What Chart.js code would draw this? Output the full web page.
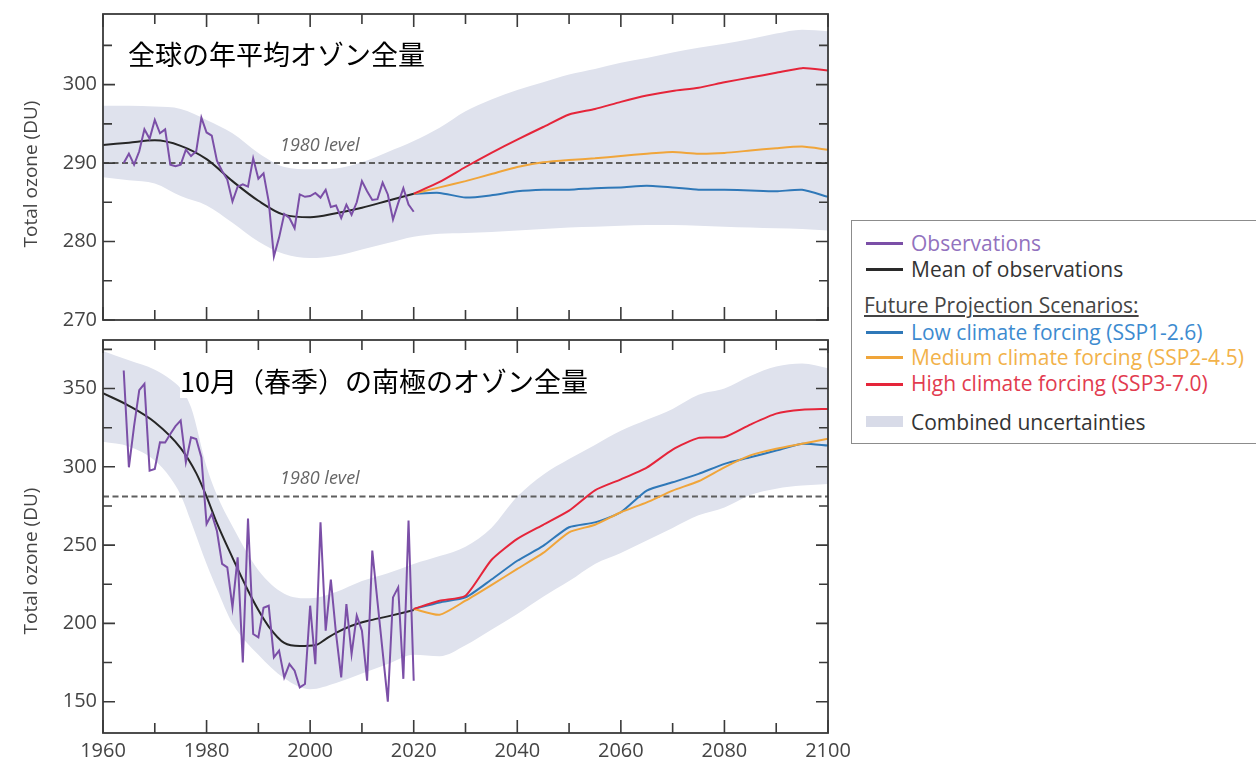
<!DOCTYPE html>
<html>
<head>
<meta charset="utf-8">
<script src="https://cdn.jsdelivr.net/npm/chart.js@4.4.1/dist/chart.umd.min.js"></script>
<style>
  html, body { margin: 0; padding: 0; background: #fff; width: 1256px; height: 759px; overflow: hidden; font-family: "Open Sans", sans-serif; }
  canvas { position: absolute; left: 0; }
  #globalChart { top: 0; }
  #polarChart { top: 330px; }
  .ttl { position: absolute; font-family: "Noto Sans CJK JP", sans-serif; font-size: 27px; line-height: 34px; color: #000; background: #fff; white-space: nowrap; }
  .lvl { position: absolute; font-style: italic; font-size: 18px; line-height: 20px; color: #666; white-space: nowrap; }
  .yt { position: absolute; font-size: 19px; line-height: 22px; color: #444; white-space: nowrap; transform: translate(-50%, -50%) rotate(-90deg); }
  #legendBox { position: absolute; left: 851px; top: 220px; width: 430px; height: 224px; border: 1.5px solid #8c8c8c; box-sizing: border-box; background: #fff; }
  .li { position: absolute; left: 911px; font-size: 21px; line-height: 24px; white-space: nowrap; }
  .sw { position: absolute; left: 866px; width: 37px; height: 2.5px; }
</style>
</head>
<body>
<canvas id="globalChart" width="870" height="330"></canvas>
<canvas id="polarChart" width="870" height="429"></canvas>

<div class="ttl" style="left:128px; top:37px;">全球の年平均オゾン全量</div>
<div class="ttl" style="left:180px; top:364px;">10月（春季）の南極のオゾン全量</div>
<div class="lvl" style="left:280px; top:134px;">1980 level</div>
<div class="lvl" style="left:280px; top:467px;">1980 level</div>
<div class="yt" style="left:30px; top:174px;">Total ozone (DU)</div>
<div class="yt" style="left:30px; top:561px;">Total ozone (DU)</div>

<div id="legendBox"></div>
<div class="sw" style="top:242px; background:#7b4fa7;"></div>
<div class="li" style="top:231px; color:#9272be;">Observations</div>
<div class="sw" style="top:268px; background:#2a2a2a;"></div>
<div class="li" style="top:257px; color:#333;">Mean of observations</div>
<div class="li" style="left:864px; top:293px; color:#444; text-decoration:underline;">Future Projection Scenarios:</div>
<div class="sw" style="top:331px; background:#2f78b8;"></div>
<div class="li" style="top:320px; color:#3d8bd0;">Low climate forcing (SSP1-2.6)</div>
<div class="sw" style="top:356px; background:#f0a53a;"></div>
<div class="li" style="top:345px; color:#f2b24a;">Medium climate forcing (SSP2-4.5)</div>
<div class="sw" style="top:383px; background:#e5253a;"></div>
<div class="li" style="top:371px; color:#e23b4f;">High climate forcing (SSP3-7.0)</div>
<div class="sw" style="top:416px; height:11px; background:#d8dbe8;"></div>
<div class="li" style="top:410px; color:#333;">Combined uncertainties</div>

<script>
// ---- axes ----
const xLabelYears = [1960, 1980, 2000, 2020, 2040, 2060, 2080, 2100];
const xMinorYears = [1970, 1990, 2010, 2030, 2050, 2070, 2090];
const globalTicks = [270, 280, 290, 300];
const globalMinor = [275, 285, 295, 305];
const polarTicks = [150, 200, 250, 300, 350];
const polarMinor = [175, 225, 275, 325, 375];

// ---- observations (annual) ----
const obsYears = [1964, 1965, 1966, 1967, 1968, 1969, 1970, 1971, 1972, 1973,
                  1974, 1975, 1976, 1977, 1978, 1979, 1980, 1981, 1982, 1983,
                  1984, 1985, 1986, 1987, 1988, 1989, 1990, 1991, 1992, 1993,
                  1994, 1995, 1996, 1997, 1998, 1999, 2000, 2001, 2002, 2003,
                  2004, 2005, 2006, 2007, 2008, 2009, 2010, 2011, 2012, 2013,
                  2014, 2015, 2016, 2017, 2018, 2019, 2020];
const globalObs = [290.0, 291.2, 289.8, 291.5, 294.3, 293.1, 295.5, 293.8, 294.3, 289.8,
                   289.6, 289.8, 291.7, 290.9, 291.5, 295.8, 293.9, 293.5, 290.3, 289.0,
                   287.9, 285.1, 287.0, 287.3, 287.0, 290.6, 288.0, 288.7, 285.1, 278.1,
                   280.5, 283.5, 283.0, 281.7, 286.0, 285.7, 285.8, 286.2, 285.6, 286.6,
                   284.4, 284.6, 283.0, 284.7, 283.4, 285.0, 287.7, 286.4, 285.3, 285.4,
                   287.5, 286.0, 282.8, 284.9, 286.8, 284.7, 283.8];
const polarObs = [361.5, 299.7, 326.0, 349.0, 353.0, 297.6, 298.6, 315.7, 315.5, 321.0,
                  326.0, 329.6, 303.0, 318.9, 317.8, 306.0, 263.5, 269.9, 259.0, 238.0,
                  235.8, 210.2, 242.2, 175.1, 267.0, 193.2, 191.1, 210.0, 211.3, 178.3,
                  182.6, 165.5, 174.0, 169.8, 159.1, 161.3, 211.3, 174.0, 264.6, 195.4,
                  228.0, 193.4, 165.5, 212.4, 180.4, 205.0, 195.4, 163.4, 246.5, 214.0,
                  182.0, 150.0, 216.6, 223.0, 164.6, 265.7, 163.4];

// ---- smoothed mean of observations ----
const globalMeanYears = [1960, 1965, 1970, 1975, 1980, 1985, 1990, 1995, 2000, 2005, 2010, 2015, 2020];
const globalMean = [292.3, 292.6, 292.9, 292.2, 290.5, 287.7, 285.2, 283.4, 283.1, 283.6, 284.3, 285.2, 286.1];
const polarMeanYears = [1960, 1965, 1970, 1975, 1978, 1980, 1982, 1985, 1988, 1990,
                        1992, 1995, 1998, 2001, 2003, 2005, 2008, 2011, 2015, 2020];
const polarMean = [347, 339, 328.5, 312, 296, 281, 264, 242, 221, 208.5,
                   198, 187.5, 185.5, 186, 190, 194, 198.5, 201.5, 204.5, 208.5];

// ---- scenario projections ----
const projYears = [2020, 2025, 2030, 2035, 2040, 2045, 2050, 2055, 2060,
                   2065, 2070, 2075, 2080, 2085, 2090, 2095, 2100];
const globalLow  = [286.1, 286.2, 285.6, 285.9, 286.4, 286.6, 286.6, 286.8, 286.9,
                    287.1, 286.9, 286.6, 286.6, 286.5, 286.4, 286.6, 285.7];
const globalMid  = [286.1, 286.9, 287.7, 288.6, 289.5, 290.1, 290.4, 290.6, 290.9,
                    291.2, 291.4, 291.2, 291.3, 291.6, 291.9, 292.1, 291.7];
const globalHigh = [286.1, 287.6, 289.5, 291.3, 293.0, 294.6, 296.2, 296.9, 297.8,
                    298.6, 299.2, 299.6, 300.3, 300.9, 301.5, 302.1, 301.8];
const polarLow  = [209.2, 213.4, 216.6, 228.0, 240.0, 249.5, 261.4, 264.5, 271.0,
                   284.8, 290.1, 295.5, 301.9, 306.1, 310.4, 314.7, 313.6];
const polarMid  = [209.2, 205.5, 214.5, 224.5, 234.8, 245.0, 258.2, 263.0, 271.0,
                   277.3, 284.8, 290.8, 299.7, 307.3, 311.5, 314.7, 317.9];
const polarHigh = [209.2, 214.5, 217.7, 240.5, 254.0, 263.0, 272.0, 285.0, 292.0,
                   299.5, 311.0, 318.5, 319.0, 327.0, 334.0, 336.5, 337.0];

// ---- combined uncertainty envelope ----
const globalBandYears = [1960, 1965, 1970, 1975, 1980, 1985, 1990, 1995, 2000, 2005,
                         2010, 2015, 2020, 2025, 2030, 2035, 2040, 2045, 2050, 2055,
                         2060, 2065, 2070, 2075, 2080, 2085, 2090, 2095, 2100];
const globalBandHigh = [297.3, 297.3, 297.2, 296.9, 295.5, 293.8, 291.3, 289.5, 289.2, 289.3,
                        290.1, 291.4, 292.8, 294.5, 296.6, 298.1, 299.3, 300.3, 301.3, 302.0,
                        302.8, 303.4, 304.1, 304.7, 305.2, 305.8, 306.5, 307.0, 306.8];
const globalBandLow  = [288.2, 287.8, 287.4, 285.8, 284.6, 282.4, 280.0, 278.4, 277.9, 278.2,
                        279.0, 279.8, 280.6, 281.0, 281.1, 281.2, 281.4, 281.6, 281.8, 281.9,
                        282.0, 282.1, 282.1, 282.0, 281.9, 281.8, 281.7, 281.6, 281.4];
const polarBandYears = [1960, 1965, 1970, 1973, 1975, 1977, 1980, 1982, 1985, 1990,
                        1995, 2000, 2005, 2010, 2015, 2020, 2025, 2030, 2035, 2040,
                        2045, 2050, 2055, 2060, 2065, 2070, 2075, 2080, 2085, 2090,
                        2095, 2100];
const polarBandHigh = [374, 368, 362, 356, 350, 338, 300, 282, 262, 234,
                       219, 216, 220, 227, 232, 238, 243, 249, 261, 281,
                       295, 305, 314, 323, 330, 337, 346, 350, 358, 364,
                       366, 363];
const polarBandLow  = [316, 313, 304, 293, 282, 265, 238, 222, 200, 180,
                       165, 158, 162, 168, 174, 180, 179, 186, 196, 206,
                       217, 227, 238, 245, 253, 261, 269, 274, 282, 286,
                       288, 289];

// ---- 1980 reference levels ----
const globalLevel1980 = 290;
const polarLevel1980 = 281;

// ---- styling ----
const C_OBS = '#7b4fa7', C_MEAN = '#262626', C_LOW = '#2f78b8', C_MID = '#f0a53a',
      C_HIGH = '#e5253a', C_BAND = '#dfe2ed', C_LEVEL = '#5e5e5e', C_AXIS = '#3a3a3a';

Chart.defaults.font.family = '"Open Sans", sans-serif';

const pts = (xs, ys) => xs.map((x, i) => ({ x: x, y: ys[i] }));

// Frame with inward-pointing tick marks on all four sides
const frameTicks = {
  id: 'frameTicks',
  afterDatasetsDraw(chart, args, opts) {
    const { ctx, chartArea: a } = chart;
    const xs = chart.scales.x, ys = chart.scales.y;
    ctx.save();
    ctx.strokeStyle = C_AXIS;
    ctx.lineWidth = 1.6;
    ctx.beginPath();
    const seg = (x1, y1, x2, y2) => { ctx.moveTo(x1, y1); ctx.lineTo(x2, y2); };
    xLabelYears.forEach(v => { const p = xs.getPixelForValue(v); seg(p, a.top, p, a.top + 13); seg(p, a.bottom, p, a.bottom - 13); });
    xMinorYears.forEach(v => { const p = xs.getPixelForValue(v); seg(p, a.top, p, a.top + 10); seg(p, a.bottom, p, a.bottom - 10); });
    opts.major.forEach(v => { const p = ys.getPixelForValue(v); seg(a.left, p, a.left + 12, p); seg(a.right, p, a.right - 12, p); });
    opts.minor.forEach(v => { const p = ys.getPixelForValue(v); seg(a.left, p, a.left + 9, p); seg(a.right, p, a.right - 9, p); });
    ctx.stroke();
    ctx.lineWidth = 1.8;
    ctx.strokeRect(a.left, a.top, a.right - a.left, a.bottom - a.top);
    ctx.restore();
  }
};

function panelDatasets(d) {
  return [
    { data: pts(d.obsYears, d.obs), borderColor: C_OBS, borderWidth: 2, order: 1 },
    { data: pts(d.meanYears, d.mean), borderColor: C_MEAN, borderWidth: 2, cubicInterpolationMode: 'monotone', order: 2 },
    { data: pts(projYears, d.high), borderColor: C_HIGH, borderWidth: 2, tension: 0.2, order: 3 },
    { data: pts(projYears, d.mid), borderColor: C_MID, borderWidth: 2, tension: 0.2, order: 4 },
    { data: pts(projYears, d.low), borderColor: C_LOW, borderWidth: 2, tension: 0.2, order: 5 },
    { data: [{ x: 1960, y: d.level }, { x: 2100, y: d.level }], borderColor: C_LEVEL, borderWidth: 2, borderDash: [6, 3.5], order: 8 },
    { data: pts(d.bandYears, d.bandHigh), borderWidth: 0, borderColor: 'rgba(0,0,0,0)', backgroundColor: C_BAND, fill: '+1', cubicInterpolationMode: 'monotone', order: 20 },
    { data: pts(d.bandYears, d.bandLow), borderWidth: 0, borderColor: 'rgba(0,0,0,0)', fill: false, cubicInterpolationMode: 'monotone', order: 21 }
  ];
}

function buildPanel(canvasId, d) {
  return new Chart(document.getElementById(canvasId), {
    type: 'line',
    data: { datasets: panelDatasets(d) },
    options: {
      responsive: false,
      animation: false,
      layout: { padding: d.padding },
      elements: { point: { radius: 0, hoverRadius: 0 } },
      plugins: {
        legend: { display: false },
        tooltip: { enabled: false },
        frameTicks: { major: d.yTicks, minor: d.yMinor }
      },
      scales: {
        x: {
          type: 'linear', min: 1960, max: 2100, display: d.showX,
          grid: { display: false, drawTicks: false }, border: { display: false },
          afterBuildTicks: s => { s.ticks = xLabelYears.map(v => ({ value: v })); },
          afterFit: s => { if (d.showX) { s.height = 26; } s.paddingLeft = 0; s.paddingRight = 0; },
          ticks: { padding: 6, color: '#444', font: { size: 20 }, maxRotation: 0, autoSkip: false, callback: v => String(v) }
        },
        y: {
          type: 'linear', min: d.yMin, max: d.yMax,
          grid: { display: false, drawTicks: false }, border: { display: false },
          afterBuildTicks: s => { s.ticks = d.yTicks.map(v => ({ value: v })); },
          afterFit: s => { s.width = 103; s.paddingTop = 0; s.paddingBottom = 0; },
          ticks: { padding: 6, color: '#444', font: { size: 20 }, autoSkip: false, callback: v => String(v) }
        }
      }
    },
    plugins: [frameTicks]
  });
}

buildPanel('globalChart', {
  obsYears: obsYears, obs: globalObs,
  meanYears: globalMeanYears, mean: globalMean,
  low: globalLow, mid: globalMid, high: globalHigh,
  bandYears: globalBandYears, bandHigh: globalBandHigh, bandLow: globalBandLow,
  level: globalLevel1980,
  yMin: 270, yMax: 309, yTicks: globalTicks, yMinor: globalMinor,
  showX: false,
  padding: { top: 14, right: 42, bottom: 10, left: 0 }
});

buildPanel('polarChart', {
  obsYears: obsYears, obs: polarObs,
  meanYears: polarMeanYears, mean: polarMean,
  low: polarLow, mid: polarMid, high: polarHigh,
  bandYears: polarBandYears, bandHigh: polarBandHigh, bandLow: polarBandLow,
  level: polarLevel1980,
  yMin: 130, yMax: 381, yTicks: polarTicks, yMinor: polarMinor,
  showX: true,
  padding: { top: 10, right: 42, bottom: 0, left: 0 }
});
</script>
</body>
</html>
